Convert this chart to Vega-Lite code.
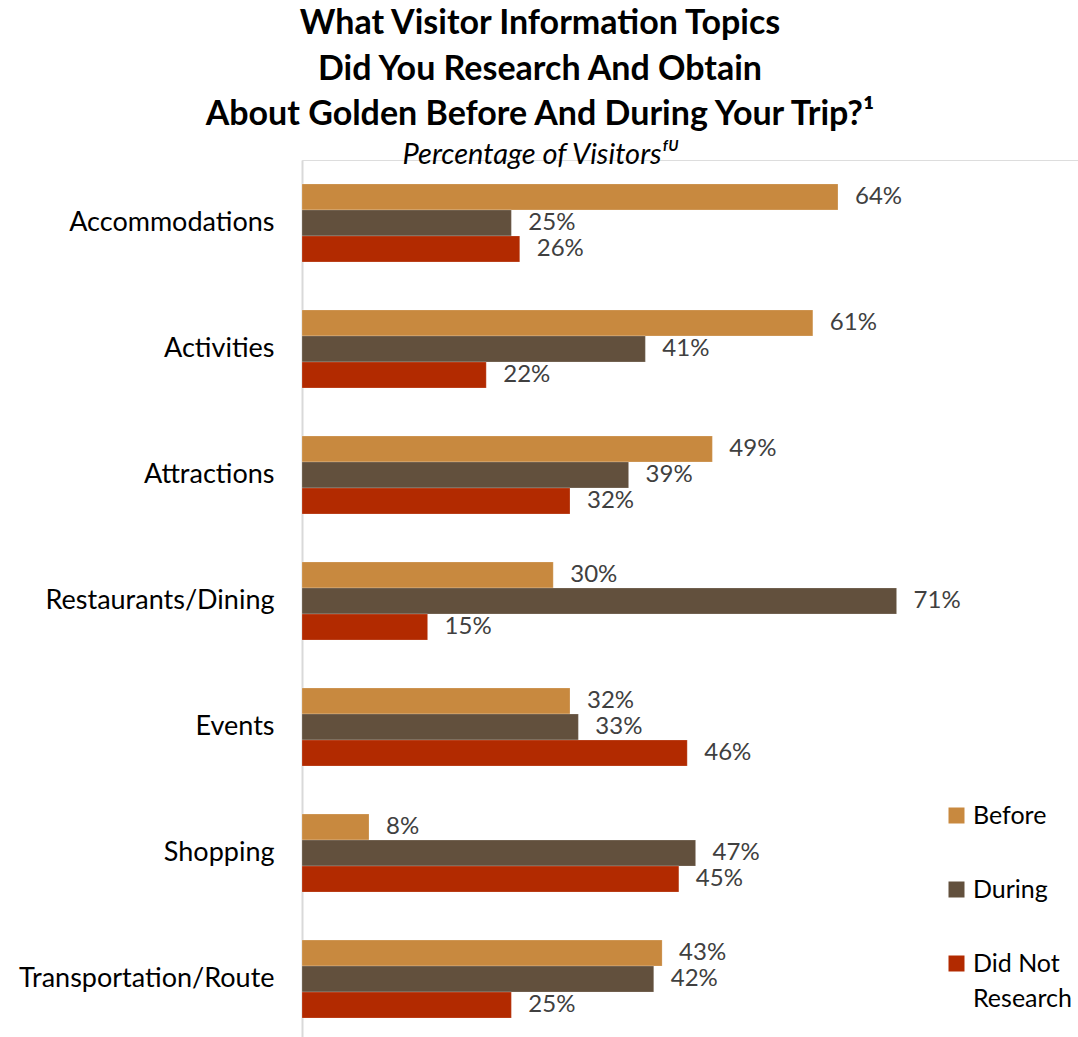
{
  "$schema": "https://vega.github.io/schema/vega-lite/v6.json",
  "autosize": {"type": "none"},
  "padding": {"left": 302, "top": 160, "right": 0, "bottom": 0},
  "width": 776,
  "height": 882,
  "background": "white",
  "config": {"style": {"guide-label": {"lineHeight": 35}}},
  "title": {
    "text": ["What Visitor Information Topics", "Did You Research And Obtain", "About Golden Before And During Your Trip?¹"],
    "subtitle": "Percentage of Visitorsᶠᵁ",
    "anchor": "middle",
    "frame": "group",
    "dx": -150,
    "font": "Lato",
    "fontSize": 34,
    "fontWeight": "bold",
    "color": "black",
    "lineHeight": 45.5,
    "subtitleFont": "Lato",
    "subtitleFontSize": 29,
    "subtitleFontStyle": "italic",
    "subtitleColor": "black",
    "subtitlePadding": 9,
    "offset": -10
  },
  "data": {
    "values": [
      {"topic": "Accommodations", "series": "Before", "value": 64},
      {"topic": "Accommodations", "series": "During", "value": 25},
      {"topic": "Accommodations", "series": "Did Not Research", "value": 26},
      {"topic": "Activities", "series": "Before", "value": 61},
      {"topic": "Activities", "series": "During", "value": 41},
      {"topic": "Activities", "series": "Did Not Research", "value": 22},
      {"topic": "Attractions", "series": "Before", "value": 49},
      {"topic": "Attractions", "series": "During", "value": 39},
      {"topic": "Attractions", "series": "Did Not Research", "value": 32},
      {"topic": "Restaurants/Dining", "series": "Before", "value": 30},
      {"topic": "Restaurants/Dining", "series": "During", "value": 71},
      {"topic": "Restaurants/Dining", "series": "Did Not Research", "value": 15},
      {"topic": "Events", "series": "Before", "value": 32},
      {"topic": "Events", "series": "During", "value": 33},
      {"topic": "Events", "series": "Did Not Research", "value": 46},
      {"topic": "Shopping", "series": "Before", "value": 8},
      {"topic": "Shopping", "series": "During", "value": 47},
      {"topic": "Shopping", "series": "Did Not Research", "value": 45},
      {"topic": "Transportation/Route", "series": "Before", "value": 43},
      {"topic": "Transportation/Route", "series": "During", "value": 42},
      {"topic": "Transportation/Route", "series": "Did Not Research", "value": 25}
    ]
  },
  "encoding": {
    "y": {
      "field": "topic",
      "type": "nominal",
      "sort": null,
      "scale": {"paddingInner": 0.381, "paddingOuter": 0.19},
      "axis": {
        "title": null,
        "ticks": false,
        "domainColor": "#d9d9d9",
        "domainWidth": 2,
        "labelFont": "Lato",
        "labelFontSize": 27,
        "labelColor": "black",
        "labelPadding": 28,
        "labelLimit": 400
      }
    },
    "yOffset": {
      "field": "series",
      "type": "nominal",
      "sort": ["Before", "During", "Did Not Research"],
      "scale": {"paddingInner": 0, "paddingOuter": 0}
    },
    "x": {
      "field": "value",
      "type": "quantitative",
      "scale": {"domain": [0, 92.66], "nice": false, "zero": true},
      "axis": null
    }
  },
  "layer": [
    {
      "mark": {"type": "bar", "stroke": "white", "strokeWidth": 0.5, "strokeOpacity": 0.4},
      "encoding": {
        "color": {
          "field": "series",
          "type": "nominal",
          "sort": ["Before", "During", "Did Not Research"],
          "scale": {"domain": ["Before", "During", "Did Not Research"], "range": ["#c8893f", "#62503d", "#b22a00"]},
          "legend": {
            "title": null,
            "orient": "none",
            "legendX": 642,
            "legendY": 643,
            "symbolType": "square",
            "symbolSize": 256,
            "symbolStrokeWidth": 0,
            "labelFont": "Lato",
            "labelFontSize": 25,
            "labelColor": "black",
            "labelOffset": 4,
            "labelBaseline": "middle",
            "rowPadding": 48,
            "labelExpr": "datum.label == 'Did Not Research' ? ['Did Not', 'Research'] : datum.label"
          }
        }
      }
    },
    {
      "transform": [{"calculate": "datum.value + '%'", "as": "label"}],
      "mark": {"type": "text", "align": "left", "baseline": "middle", "dx": 17, "font": "Lato", "fontSize": 24, "color": "#404040"},
      "encoding": {
        "text": {"field": "label", "type": "nominal"}
      }
    }
  ]
}
